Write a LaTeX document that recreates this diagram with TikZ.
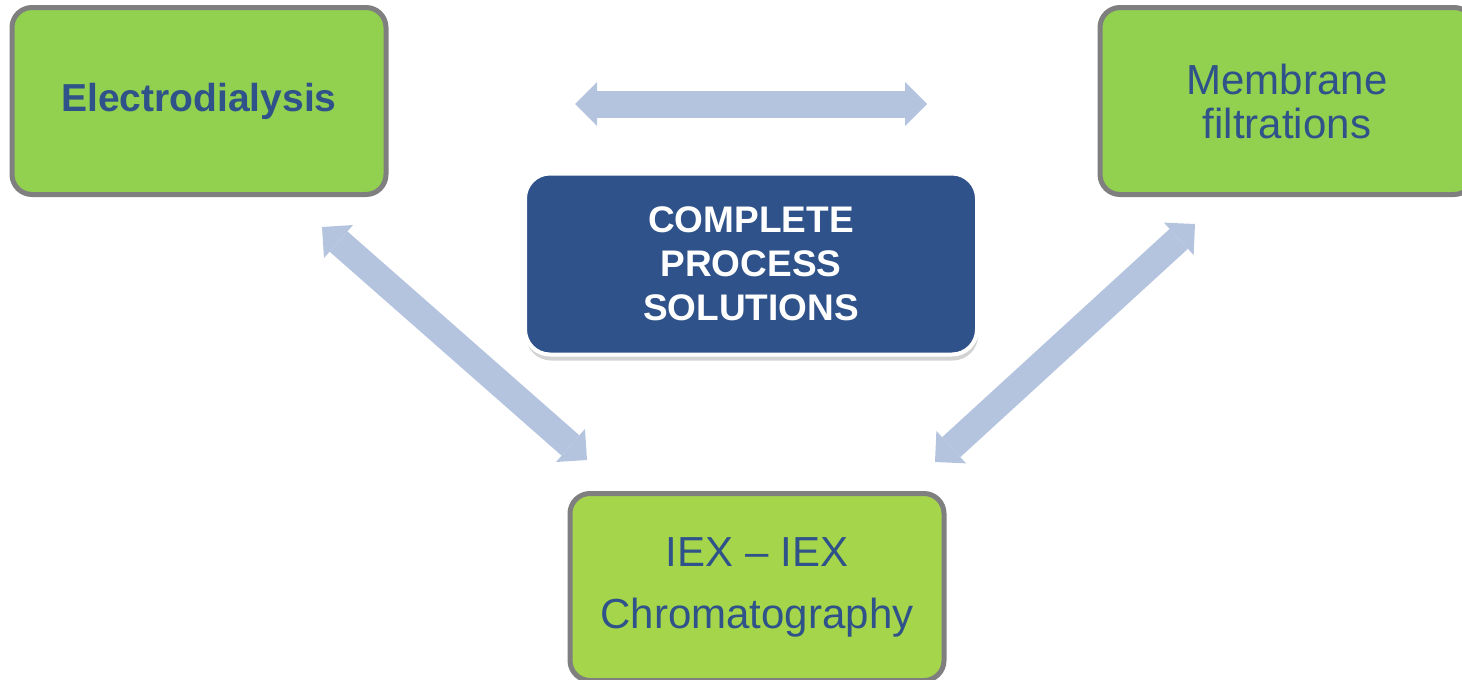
\documentclass[tikz,border=0pt]{standalone}
\usepackage{fontspec}
\setmainfont{Liberation Sans}
\usetikzlibrary{positioning, arrows.meta, shadows}
\definecolor{leafgreen}{HTML}{92D050}
\definecolor{limegreen}{HTML}{A5D54B}
\definecolor{navyblue}{HTML}{2E5289}
\definecolor{paleblue}{HTML}{B4C4DF}
\definecolor{rimgray}{HTML}{7F7F7F}
\tikzset{
  procbox/.style={draw=rimgray, line width=5pt, fill=leafgreen, rounded corners=20pt,
    minimum width=374pt, minimum height=187pt, align=center, text=navyblue,
    font=\fontsize{42}{44}\selectfont},
  corebox/.style={draw=white, line width=4pt, fill=navyblue, rounded corners=25pt,
    minimum width=452pt, minimum height=181pt, align=center, text=white,
    font=\bfseries\fontsize{37}{44}\selectfont,
    drop shadow={shadow xshift=1pt, shadow yshift=-6pt, opacity=0.35}},
  link/.style={line width=27pt, color=paleblue,
    arrows={Triangle[width=44pt,length=22pt,line width=0pt]-Triangle[width=44pt,length=22pt,line width=0pt]}}
}
\begin{document}
\begin{tikzpicture}[x=1pt,y=-1pt,on grid]
        \clip (0,0) rectangle (1462,680);
        \node[procbox,font=\bfseries\fontsize{39}{44}\selectfont] (ed) at (199,101) {Electrodialysis};
        \node[procbox] (mf) [right=1088pt of ed] {Membrane\\filtrations};
        \node[procbox,fill=limegreen] (iex) [below right=486pt and 558pt of ed] {IEX -- IEX\\[18pt]Chromatography};
        \node[corebox] (cps) at (751,264) {COMPLETE\\PROCESS\\SOLUTIONS};
        % arrow ends
        \coordinate (ed-mf) at (575,104);
        \coordinate (mf-ed) at (927,104);
        \coordinate (ed-iex) at (322,227);
        \coordinate (iex-ed) at (587,460);
        \coordinate (mf-iex) at (1195,224);
        \coordinate (iex-mf) at (935,462);
        \path[link]
         (ed-mf) edge (mf-ed)
         (ed-iex) edge (iex-ed)
         (mf-iex) edge (iex-mf);
\end{tikzpicture}
\end{document}
